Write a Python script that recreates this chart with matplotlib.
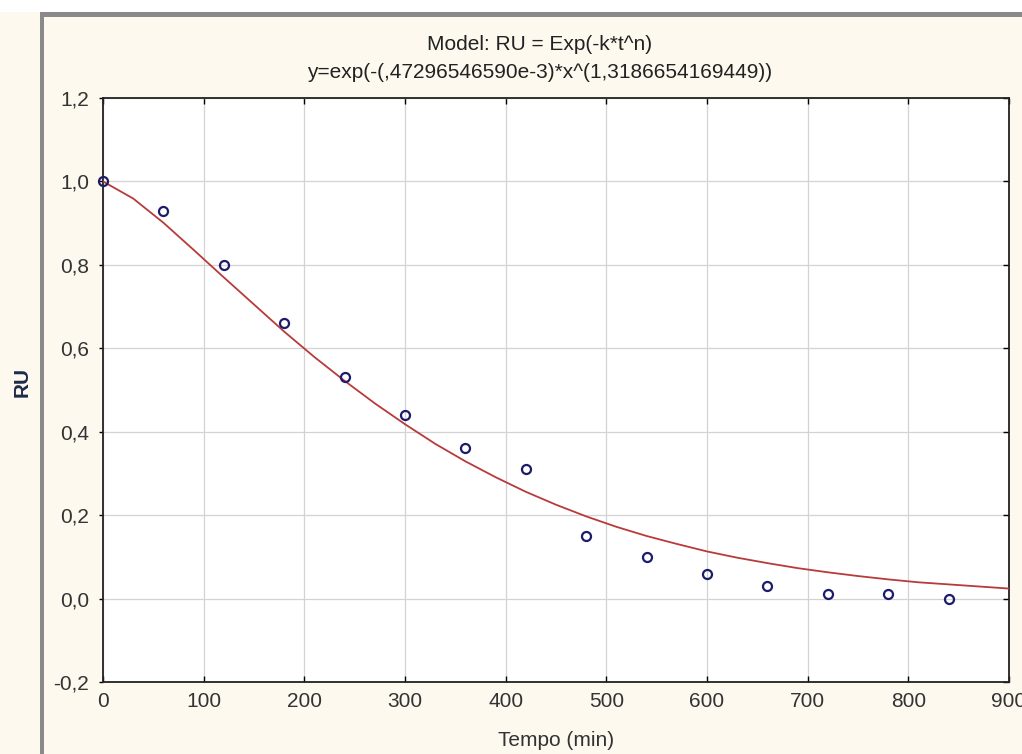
import matplotlib
matplotlib.use("Agg")
import matplotlib.pyplot as plt
from matplotlib.patches import Rectangle
from matplotlib.ticker import FuncFormatter

# observed moisture ratio
tempo = [0, 60, 120, 180, 240, 300, 360, 420, 480, 540, 600, 660, 720, 780, 840]
ru = [1.00, 0.93, 0.80, 0.66, 0.53, 0.44, 0.36, 0.31, 0.15, 0.10, 0.06, 0.03, 0.01, 0.01, 0.00]

# fitted model curve
fit_t = [0, 30, 60, 90, 120, 150, 180, 210, 240, 270, 300, 330, 360, 390, 420, 450,
         480, 510, 540, 570, 600, 630, 660, 690, 720, 750, 780, 810, 840, 870, 900]
fit_ru = [1.000, 0.959, 0.901, 0.836, 0.770, 0.705, 0.640, 0.579, 0.522, 0.468, 0.418,
          0.371, 0.329, 0.291, 0.256, 0.225, 0.197, 0.172, 0.150, 0.131, 0.113, 0.098,
          0.085, 0.073, 0.063, 0.054, 0.046, 0.039, 0.034, 0.029, 0.024]

x_ticks = [0, 100, 200, 300, 400, 500, 600, 700, 800, 900]
y_ticks = [-0.2, 0.0, 0.2, 0.4, 0.6, 0.8, 1.0, 1.2]

title1 = "Model: RU = Exp(-k*t^n)"
title2 = "y=exp(-(,47296546590e-3)*x^(1,3186654169449))"

plt.rcParams["font.family"] = ["Liberation Sans", "DejaVu Sans"]

W, H = 1022, 754
bg = "#fdf9ef"
fs = 15
fig = plt.figure(figsize=(W / 100, H / 100), dpi=100, facecolor=bg)

# window frame (top strip + grey border)
fig.add_artist(Rectangle((0, 1 - 12 / H), 1, 12 / H, transform=fig.transFigure,
                         facecolor="white", edgecolor="none"))
fig.add_artist(Rectangle((41 / W, 1 - 17 / H), 1, 5 / H, transform=fig.transFigure,
                         facecolor="#8a8a8a", edgecolor="none"))
fig.add_artist(Rectangle((40 / W, 0), 4 / W, 1 - 12 / H, transform=fig.transFigure,
                         facecolor="#8a8a8a", edgecolor="none"))

ax = fig.add_axes([103 / W, (H - 682) / H, 906 / W, 584 / H])
ax.set_facecolor("white")

ax.plot(fit_t, fit_ru, color="#b83a3a", lw=1.3, zorder=3)
ax.plot(tempo, ru, "o", ms=6.5, mfc="none", mec="#1c1c6a", mew=1.6, zorder=4,
        clip_on=False)

ax.set_xlim(0, 900)
ax.set_ylim(-0.2, 1.2)
ax.set_xticks(x_ticks)
ax.set_yticks(y_ticks)
ax.xaxis.set_major_formatter(FuncFormatter(lambda v, p: f"{v:.0f}"))
ax.yaxis.set_major_formatter(FuncFormatter(lambda v, p: f"{v:.1f}".replace(".", ",")))

ax.grid(True, color="#d3d3d3", lw=0.9)
ax.set_axisbelow(True)
for s in ax.spines.values():
    s.set_color("#222222")
    s.set_linewidth(1.3)

ax.tick_params(axis="x", direction="in", length=4, width=1, pad=7,
               labelsize=fs, labelcolor="#333333", top=True)
ax.tick_params(axis="y", direction="out", length=3, width=1, pad=7,
               labelsize=fs, labelcolor="#333333", right=True)
for t in ax.yaxis.get_major_ticks():
    t.tick2line.set_marker(0)  # right ticks point inward
    t.tick2line.set_markersize(4)

fig.text(556 / W, 1 - 740 / H, "Tempo (min)", ha="center", va="center",
         fontsize=fs, color="#333333")
fig.text(540 / W, 1 - 44 / H, title1, ha="center", va="center", fontsize=fs,
         color="#222222")
fig.text(540 / W, 1 - 72 / H, title2, ha="center", va="center", fontsize=fs,
         color="#222222")
fig.text(22 / W, 1 - 382 / H, "RU", ha="center", va="center", rotation=90,
         fontsize=15, fontweight="bold", color="#1e2a4a")

fig.savefig("out.png", dpi=100, facecolor=bg)
